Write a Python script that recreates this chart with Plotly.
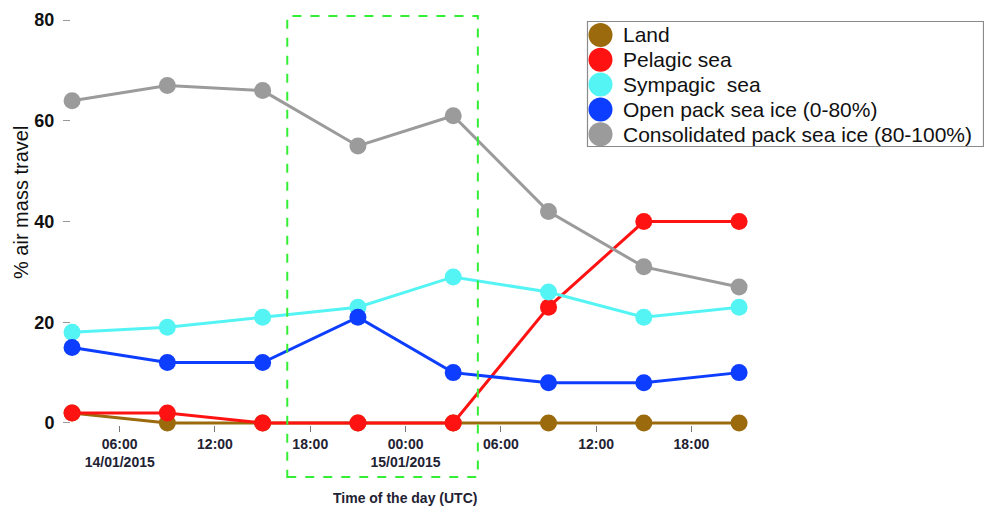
import plotly.graph_objects as go

# Sampling times (UTC), every 6 hours from 03:00 on 14/01/2015
times = [
    "2015-01-14 03:00", "2015-01-14 09:00", "2015-01-14 15:00", "2015-01-14 21:00",
    "2015-01-15 03:00", "2015-01-15 09:00", "2015-01-15 15:00", "2015-01-15 21:00",
]

series_names = [
    "Land",
    "Pelagic sea",
    "Sympagic  sea",
    "Open pack sea ice (0-80%)",
    "Consolidated pack sea ice (80-100%)",
]
land = [2, 0, 0, 0, 0, 0, 0, 0]
pelagic = [2, 2, 0, 0, 0, 23, 40, 40]
sympagic = [18, 19, 21, 23, 29, 26, 21, 23]
open_pack = [15, 12, 12, 21, 10, 8, 8, 10]
consolidated = [64, 67, 66, 55, 61, 42, 31, 27]
series_values = [land, pelagic, sympagic, open_pack, consolidated]
series_colors = ["#9A6A0C", "#FF1212", "#55F4F4", "#0D3EFF", "#9B9B9B"]

tick_times = [
    "2015-01-14 06:00", "2015-01-14 12:00", "2015-01-14 18:00", "2015-01-15 00:00",
    "2015-01-15 06:00", "2015-01-15 12:00", "2015-01-15 18:00",
]
tick_labels = ["06:00<br>14/01/2015", "12:00", "18:00", "00:00<br>15/01/2015",
               "06:00", "12:00", "18:00"]
y_ticks = [0, 20, 40, 60, 80]

# Highlighted period (night of 14-15 January)
window = ["2015-01-14 16:33", "2015-01-15 04:33"]

W, H = 984, 509
M_L, M_R, M_T, M_B = 71, 224, 10, 84
PW, PH = W - M_L - M_R, H - M_T - M_B


def px_x(px):
    return (px - M_L) / PW


def px_y(py):
    return (H - M_B - py) / PH


fig = go.Figure()
for name, vals, col in zip(series_names, series_values, series_colors):
    fig.add_trace(go.Scatter(
        x=times, y=vals, name=name, mode="lines+markers",
        line=dict(color=col, width=3),
        marker=dict(color=col, size=17),
        cliponaxis=False, showlegend=False,
    ))

shapes = [
    dict(type="rect", xref="x", yref="paper",
         x0=window[0], x1=window[1], y0=px_y(477), y1=px_y(16),
         line=dict(color="#33EE33", width=2, dash="dash"), layer="above"),
    # legend frame
    dict(type="rect", xref="paper", yref="paper",
         x0=px_x(587.5), x1=px_x(983.5), y0=px_y(146.5), y1=px_y(21.5),
         line=dict(color="#8A8A8A", width=1.2), fillcolor="white", layer="below"),
]
annotations = []
for i, (name, col) in enumerate(zip(series_names, series_colors)):
    cy = 35 + i * 24.8
    shapes.append(dict(type="circle", xref="paper", yref="paper",
                       xsizemode="pixel", ysizemode="pixel",
                       xanchor=px_x(600.5), yanchor=px_y(cy),
                       x0=-12, x1=12, y0=-12, y1=12,
                       fillcolor=col, line=dict(width=0)))
    annotations.append(dict(xref="paper", yref="paper", x=px_x(621), y=px_y(cy),
                            xanchor="left", yanchor="middle", showarrow=False,
                            text=name.replace("  ", " \u00a0"),
                            font=dict(size=21, color="#111111",
                                      family="Liberation Sans, Arial")))

annotations.append(dict(xref="paper", yref="paper", x=px_x(21), y=px_y(203),
                        text="% air mass travel", textangle=-90, showarrow=False,
                        xanchor="center", yanchor="middle",
                        font=dict(size=20, color="#111111",
                                  family="Liberation Sans, Arial")))
annotations.append(dict(xref="paper", yref="paper", x=px_x(405), y=px_y(498),
                        text="<b>Time of the day (UTC)</b>", showarrow=False,
                        xanchor="center", yanchor="middle",
                        font=dict(size=14, color="#222233",
                                  family="Liberation Sans, Arial")))

fig.update_layout(
    width=W, height=H,
    margin=dict(l=M_L, r=M_R, t=M_T, b=M_B, pad=0),
    paper_bgcolor="white", plot_bgcolor="white",
    showlegend=False,
    shapes=shapes, annotations=annotations,
    xaxis=dict(
        type="date", range=["2015-01-14 02:56", "2015-01-15 22:19"],
        tickvals=tick_times, ticktext=tick_labels,
        ticks="outside", ticklen=6, tickcolor="#777777", tickwidth=1,
        showgrid=False, zeroline=False, showline=False,
        tickfont=dict(size=14, color="#222233", family="Liberation Sans, Arial", weight="bold"),
    ),
    yaxis=dict(
        range=[-0.4, 82.0], tickvals=y_ticks,
        ticks="outside", ticklen=7, tickcolor="#999999", tickwidth=1,
        ticklabelstandoff=5,
        showgrid=False, zeroline=False, showline=False,
        tickfont=dict(size=18, color="#111111", family="Liberation Sans, Arial", weight="bold"),
    ),
)

fig.write_html("out.html")
